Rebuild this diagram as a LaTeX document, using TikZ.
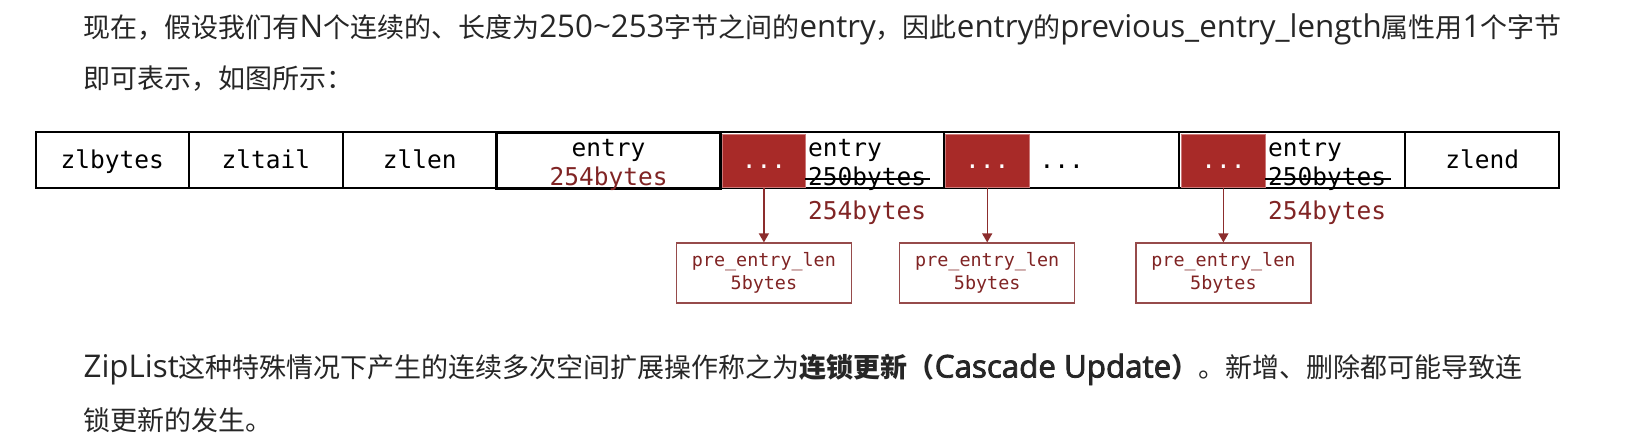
\documentclass[tikz,border=0pt]{standalone}
\usepackage{fontspec}
\setmonofont{DejaVu Sans Mono}
\newfontfamily\cjk{Noto Sans CJK SC}
\newfontfamily\latin{Open Sans}[AutoFakeBold=2.5]
\usepackage{xcolor}
\usepackage{tikz}
\usetikzlibrary{arrows.meta}

\definecolor{blockred}{RGB}{168,42,40}
\definecolor{blockedge}{RGB}{205,120,120}
\definecolor{darkred}{RGB}{128,36,36}
\definecolor{boxedge}{RGB}{150,75,75}
\definecolor{arrowred}{RGB}{140,45,45}

\newcommand{\cellfont}{\fontsize{24.5}{29}\selectfont\ttfamily}
\newcommand{\prefont}{\fontsize{18.4}{22.5}\selectfont\ttfamily}
\newcommand{\latintxt}[1]{{\fontsize{31.3}{32}\selectfont\latin #1}}

\begin{document}
\begin{tikzpicture}[x=1pt,y=-1pt,
  zlcell/.style={draw,line width=2pt,minimum height=56pt,inner sep=0pt,font=\cellfont,text height=18.6pt,text depth=2pt},
  redblk/.style={draw=blockedge,line width=0.8pt,fill=blockred,text=white,minimum height=53pt,inner sep=0pt,font=\cellfont,text height=18.6pt,text depth=4pt},
  monotxt/.style={inner sep=0pt,font=\cellfont},
  prebox/.style={draw=boxedge,line width=1.2pt,minimum width=175pt,minimum height=60pt,inner sep=0pt,align=center,text=darkred,font=\prefont},
  lenarrow/.style={draw=arrowred,line width=1.3pt,-{Triangle[length=9pt,width=10pt]}},
  paratext/.style={anchor=base west,inner sep=0pt,text=black!85,font=\fontsize{27}{32}\selectfont\cjk}]
  \fill[white] (0,0) rectangle (1636,445);
  \useasboundingbox (0,0) rectangle (1636,445);

  % text above
  \node[paratext] (line1) at (83.5,37) {现在，假设我们有\latintxt{N}个连续的、长度为\latintxt{250\textasciitilde253}字节之间的\latintxt{entry}，因此\latintxt{entry}的\latintxt{previous\_entry\_length}属性用\latintxt{1}个字节};
  \node[paratext] (line2) at (83.5,88.5) {即可表示，如图所示：};

  % ziplist
  \node[zlcell,minimum width=153pt] (zlbytes) at (112.2,160.3) {zlbytes};
  \node[zlcell,minimum width=154pt] (zltail) at (265.9,160.3) {zltail};
  \node[zlcell,minimum width=153.5pt] (zllen) at (419.7,160.3) {zllen};
  \node[zlcell,minimum width=223.6pt] (g1) at (832.5,160.3) {};
  \node[zlcell,minimum width=235pt] (g2) at (1061.8,160.3) {...};
  \node[zlcell,minimum width=225.7pt] (g3) at (1292.2,160.3) {};
  \node[zlcell,minimum width=154.3pt] (zlend) at (1482.2,160.3) {zlend};
  \node[zlcell,line width=2.8pt,minimum width=224.2pt] (e254) at (608.6,160.3) {};
  \node[monotxt,anchor=base] (e254top) at (608.6,156) {entry};
  \node[monotxt,anchor=base,text=darkred] (e254len) at (608.6,185) {254bytes};

  \node[redblk,minimum width=82.3pt] (r1) at (763.9,160.7) {...};
  \node[redblk,minimum width=84.3pt] (r2) at (987.2,160.7) {...};
  \node[redblk,minimum width=83.3pt] (r3) at (1223.4,160.7) {...};

  \node[monotxt,anchor=base west] (t1) at (808,156) {entry};
  \node[monotxt,anchor=base west] (s1) at (808,185) {250bytes};
  \node[monotxt,anchor=base west] (t3) at (1268,156) {entry};
  \node[monotxt,anchor=base west] (s3) at (1268,185) {250bytes};
  \draw[line width=1.3pt] (805,179) -- (930,179);
  \draw[line width=1.3pt] (1265,179) -- (1391,179);
  \node[monotxt,anchor=base west,text=darkred] (n1) at (808,219) {254bytes};
  \node[monotxt,anchor=base west,text=darkred] (n3) at (1268,219) {254bytes};

  % pre_entry_len
  \node[prebox] (p1) at (763.9,273) {pre\_entry\_len\\5bytes};
  \node[prebox] (p2) at (987.2,273) {pre\_entry\_len\\5bytes};
  \node[prebox] (p3) at (1223.4,273) {pre\_entry\_len\\5bytes};
  \draw[lenarrow] (r1) -- (p1);
  \draw[lenarrow] (r2) -- (p2);
  \draw[lenarrow] (r3) -- (p3);

  % text below
  \node[paratext] (line3) at (83.5,377.5) {\latintxt{ZipList}这种特殊情况下产生的连续多次空间扩展操作称之为\textbf{连锁更新（\latintxt{Cascade Update}）}。新增、删除都可能导致连};
  \node[paratext] (line4) at (83.5,430) {锁更新的发生。};
\end{tikzpicture}
\end{document}
